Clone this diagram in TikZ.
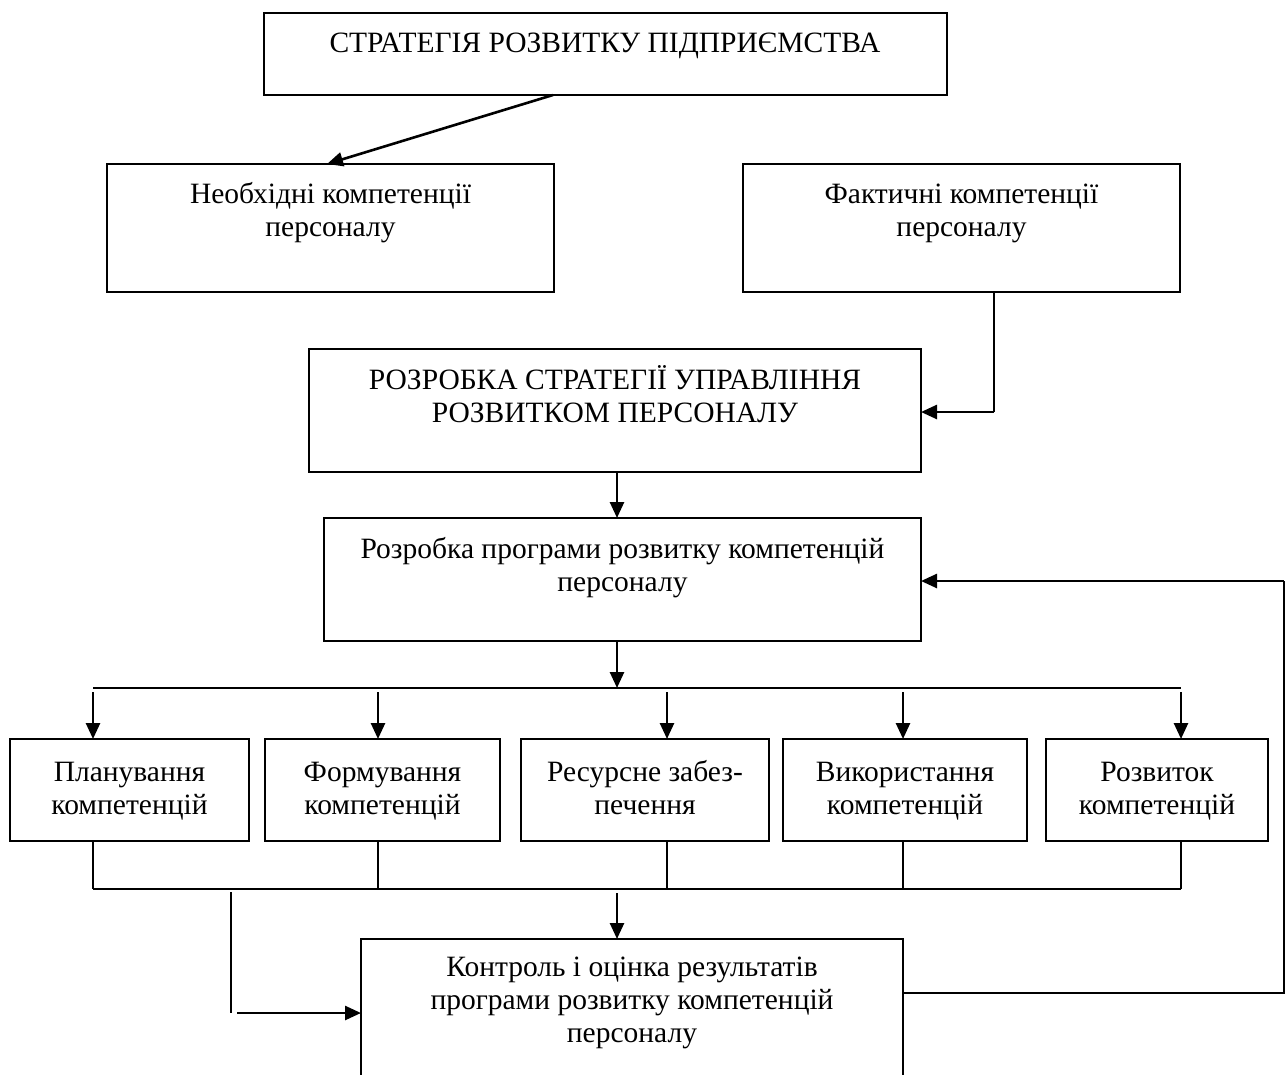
\documentclass[tikz,border=0pt]{standalone}
\usepackage{fontspec}
\setmainfont{Liberation Serif}
\usetikzlibrary{arrows.meta,calc}
\begin{document}
\begin{tikzpicture}[x=1pt,y=-1pt,
  box/.style={draw,line width=1.8pt,inner sep=0pt,outer sep=0pt},
  lbl/.style={anchor=base,inner sep=0pt,font=\fontsize{29.5}{33}\selectfont},
  tip/.style={-{Triangle[length=16pt,width=14pt]}},
  arr/.style={line width=2.6pt,tip},
  ln/.style={line width=1.8pt}]
\useasboundingbox (0,0) rectangle (1285,1074);
\clip (0,0) rectangle (1285,1074);
% boxes
\node[box,minimum width=683pt,minimum height=82pt] (A) at (605.5,54) {};
\node[box,minimum width=447pt,minimum height=128pt] (B) at (330.5,228) {};
\node[box,minimum width=437pt,minimum height=128pt] (C) at (961.5,228) {};
\node[box,minimum width=612pt,minimum height=123pt] (D) at (615,410.5) {};
\node[box,minimum width=597pt,minimum height=123pt] (E) at (622.5,579.5) {};
\node[box,minimum width=239pt,minimum height=102pt] (F1) at (129.5,790) {};
\node[box,minimum width=235pt,minimum height=102pt] (F2) at (382.5,790) {};
\node[box,minimum width=248pt,minimum height=102pt] (F3) at (645,790) {};
\node[box,minimum width=244pt,minimum height=102pt] (F4) at (905,790) {};
\node[box,minimum width=222pt,minimum height=102pt] (F5) at (1157,790) {};
\node[box,minimum width=542pt,minimum height=180pt] (G) at (632,1029) {};
% texts
\node[lbl] (tA) at (605,52) {СТРАТЕГІЯ РОЗВИТКУ ПІДПРИЄМСТВА};
\node[lbl] (tB) at (330.5,203) {\begin{tabular}[t]{@{}c@{}}Необхідні компетенції\\персоналу\end{tabular}};
\node[lbl] (tC) at (961.5,203) {\begin{tabular}[t]{@{}c@{}}Фактичні компетенції\\персоналу\end{tabular}};
\node[lbl] (tD) at (615,389) {\begin{tabular}[t]{@{}c@{}}РОЗРОБКА СТРАТЕГІЇ УПРАВЛІННЯ\\РОЗВИТКОМ ПЕРСОНАЛУ\end{tabular}};
\node[lbl] (tE) at (622.5,558) {\begin{tabular}[t]{@{}c@{}}Розробка програми розвитку компетенцій\\персоналу\end{tabular}};
\node[lbl] (tF1) at (129.5,781) {\begin{tabular}[t]{@{}c@{}}Планування\\компетенцій\end{tabular}};
\node[lbl] (tF2) at (382.5,781) {\begin{tabular}[t]{@{}c@{}}Формування\\компетенцій\end{tabular}};
\node[lbl] (tF3) at (645,781) {\begin{tabular}[t]{@{}c@{}}Ресурсне забез-\\печення\end{tabular}};
\node[lbl] (tF4) at (905,781) {\begin{tabular}[t]{@{}c@{}}Використання\\компетенцій\end{tabular}};
\node[lbl] (tF5) at (1157,781) {\begin{tabular}[t]{@{}c@{}}Розвиток\\компетенцій\end{tabular}};
\node[lbl] (tG) at (632,976) {\begin{tabular}[t]{@{}c@{}}Контроль і оцінка результатів\\програми розвитку компетенцій\\персоналу\end{tabular}};
% helper coordinates
\coordinate (xm) at (617,0);
\coordinate (x1) at (93,0);
\coordinate (x2) at (378,0);
\coordinate (x3) at (667,0);
\coordinate (x4) at (903,0);
\coordinate (x5) at (1181,0);
\coordinate (busTL) at (93,688);
\coordinate (busTR) at (1181,688);
\coordinate (busBL) at (93,889);
\coordinate (busBR) at (1181,889);
\coordinate (sideTop) at (231,892);
\coordinate (sideBot) at (231,1013);
\coordinate (sideStart) at (237,1013);
\coordinate (fbR) at (1284,993);
% connectors
\draw[arr] ([xshift=289pt]A.south west) -- ([xshift=220pt]B.north west);
\draw[ln] ([xshift=251pt]C.south west) -- ([xshift=251pt,yshift=-1.5pt]C.south west |- D.east);
\draw[arr] ([xshift=251pt,yshift=-1.5pt]C.south west |- D.east) -- ([yshift=-1.5pt]D.east);
\draw[arr] (D.south -| xm) -- (E.north -| xm);
\draw[arr] (E.south -| xm) -- (busTL -| xm);
\draw[ln] (busTL) -- (busTR);
\foreach \i in {1,...,5}{
  \draw[arr] ([yshift=-4pt]busTL -| x\i) -- (F\i.north -| x\i);
  \draw[ln] (F\i.south -| x\i) -- (busBL -| x\i);
}
\draw[ln] (busBL) -- (busBR);
\draw[arr] ([yshift=-4pt]busBL -| xm) -- (G.north -| xm);
\draw[ln] (sideTop) -- (sideBot);
\draw[arr] (sideStart) -- (sideStart -| G.west);
\draw[ln] (fbR -| G.east) -- (fbR) -- ([yshift=-1.5pt]fbR |- E.east);
\draw[arr] ([yshift=-1.5pt]fbR |- E.east) -- ([yshift=-1.5pt]E.east);
\end{tikzpicture}
\end{document}
